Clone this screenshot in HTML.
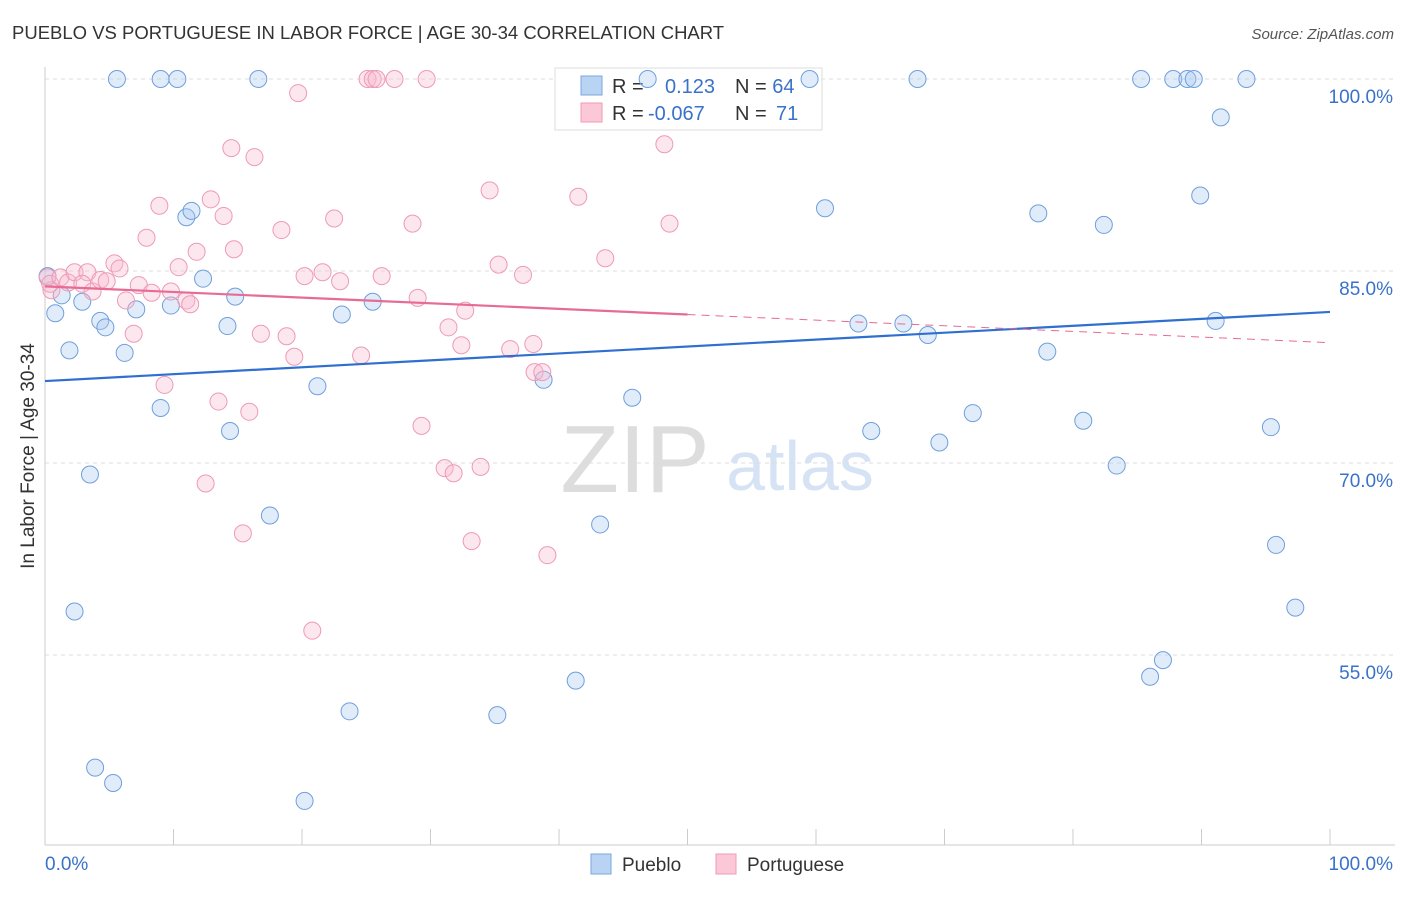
<!DOCTYPE html>
<html><head><meta charset="utf-8"><style>
body{margin:0;background:#fff;font-family:"Liberation Sans",sans-serif}
svg text{font-family:"Liberation Sans",sans-serif}
</style></head><body>
<svg id="c" width="1406" height="892">
<text x="12" y="39" font-size="18.5" fill="#333">PUEBLO VS PORTUGUESE IN LABOR FORCE | AGE 30-34 CORRELATION CHART</text>
<text x="1394" y="39" font-size="15" fill="#555" font-style="italic" text-anchor="end">Source: ZipAtlas.com</text>
<text x="34" y="456" font-size="19" fill="#333" transform="rotate(-90 34 456)" text-anchor="middle">In Labor Force | Age 30-34</text>
<text x="635" y="492" font-size="96" fill="#ddd" font-family="Liberation Serif" text-anchor="middle">ZIP</text>
<text x="800" y="490" font-size="70" fill="#d5e3f5" text-anchor="middle">atlas</text>
<g id="grid"></g>
<g>
<rect x="555" y="68" width="267" height="62" fill="#fff" stroke="#ddd"/>
<rect x="581" y="76" width="21" height="19" fill="#b9d3f3" stroke="#7aa7e0"/>
<rect x="581" y="103" width="21" height="19" fill="#fbc8d8" stroke="#f09ab5"/>
<text x="612" y="93" font-size="20" fill="#333">R = <tspan fill="#3a72c9" x="665">0.123</tspan><tspan fill="#333" x="735">N = </tspan><tspan fill="#3a72c9">64</tspan></text>
<text x="612" y="120" font-size="20" fill="#333">R = <tspan fill="#3a72c9" x="648">-0.067</tspan><tspan fill="#333" x="735">N = </tspan><tspan fill="#3a72c9" x="776">71</tspan></text>
</g>
<g id="pts"></g><g id="lines"></g>
<g>
<rect x="591" y="854" width="20" height="20" fill="#b9d3f3" stroke="#7aa7e0"/>
<text x="622" y="871" font-size="19" fill="#333">Pueblo</text>
<rect x="716" y="854" width="20" height="20" fill="#fbc8d8" stroke="#f09ab5"/>
<text x="747" y="871" font-size="19" fill="#333">Portuguese</text>
</g>
<text x="45" y="870" font-size="19" fill="#3a72c9">0.0%</text>
<text x="1393" y="870" font-size="19" fill="#3a72c9" text-anchor="end">100.0%</text>
</svg>
<script>
const yTicks=[100,85,70,55];
const yTickLabels=["100.0%","85.0%","70.0%","55.0%"];
const xTicks=[0,10,20,30,40,50,60,70,80,90,100];
const puebloX=[5.6,9,10.3,16.6,46.9,59.5,67.9,85.3,87.8,88.9,89.4,93.5,91.5,89.9,60.7,77.3,82.4,11,11.4,12.3,0.2,1.3,0.8,2.9,4.3,4.7,7.1,9.8,14.8,14.2,25.5,23.1,1.9,6.2,63.3,66.8,68.7,91.1,78,38.8,21.2,9,45.7,14.4,64.3,69.6,72.2,80.8,95.4,83.4,3.5,17.5,43.2,95.8,2.3,97.3,87,86,41.3,23.7,35.2,3.9,5.3,20.2];
const puebloY=[100,100,100,100,100,100,100,100,100,100,100,100,97,90.9,89.9,89.5,88.6,89.2,89.7,84.4,84.6,83.1,81.7,82.6,81.1,80.6,82,82.3,83,80.7,82.6,81.6,78.8,78.6,80.9,80.9,80,81.1,78.7,76.5,76,74.3,75.1,72.5,72.5,71.6,73.9,73.3,72.8,69.8,69.1,65.9,65.2,63.6,58.4,58.7,54.6,53.3,53,50.6,50.3,46.2,45,43.6];
const portX=[0.2,0.5,0.4,1.2,1.8,2.3,3.3,2.9,3.7,4.3,4.8,5.4,5.8,6.3,6.9,7.3,7.9,8.3,8.9,9.3,9.8,10.4,11,11.3,11.8,12.5,12.9,13.5,13.9,14.5,14.7,15.4,15.9,16.3,16.8,18.4,18.8,19.4,19.7,20.2,20.8,21.6,22.5,22.96,24.6,25.1,25.5,25.8,27.2,29.7,26.2,28.6,29,29.3,31.1,31.4,31.8,32.4,32.7,33.2,33.9,34.6,35.3,36.2,37.2,38,38.1,38.7,39.1,41.5,43.6,48.2,48.6];
const portY=[84.5,83.5,84,84.5,84.1,84.9,84.9,84,83.4,84.3,84.2,85.6,85.2,82.7,80.1,83.9,87.6,83.3,90.1,76.1,83.4,85.3,82.7,82.4,86.5,68.4,90.6,74.8,89.3,94.6,86.7,64.5,74,93.9,80.1,88.2,79.9,78.3,98.9,84.6,56.9,84.9,89.1,84.2,78.4,100,100,100,100,100,84.6,88.7,82.9,72.9,69.6,80.6,69.2,79.2,81.9,63.9,69.7,91.3,85.5,78.9,84.7,79.3,77.1,77.1,62.8,90.8,86,94.9,88.7];
const NS="http://www.w3.org/2000/svg";
const X=v=>45+v*12.85, Y=v=>79+(100-v)*12.8;
function mk(p,t,a){const e=document.createElementNS(NS,t);for(const k in a)e.setAttribute(k,a[k]);document.getElementById(p).appendChild(e);return e;}
yTicks.forEach((t,i)=>{
 const l=mk('grid','line',{x1:45,x2:1395,y1:Y(t),y2:Y(t),stroke:'#ddd','stroke-dasharray':'4,4'});
 
 
 const tx=mk('grid','text',{x:1393,y:Y(t)+24,'font-size':19,fill:'#3a72c9','text-anchor':'end'});tx.textContent=yTickLabels[i];
 
 
});
const ax=mk('grid','line',{x1:45,x2:45,y1:67,y2:845,stroke:'#ccc'});


const bx=mk('grid','line',{x1:45,x2:1395,y1:845,y2:845,stroke:'#ccc'});


xTicks.forEach(t=>{const l=mk('grid','line',{x1:X(t),x2:X(t),y1:829,y2:845,stroke:'#ccc'});
 
 });
puebloX.forEach((x,i)=>{const c=mk('pts','circle',{cx:X(x),cy:Y(puebloY[i]),r:8.5,fill:'rgba(170,200,240,0.35)',stroke:'#6f9fdc','stroke-width':1});
 
 });
portX.forEach((x,i)=>{const c=mk('pts','circle',{cx:X(x),cy:Y(portY[i]),r:8.5,fill:'rgba(248,185,205,0.35)',stroke:'#ee9ab5','stroke-width':1});
 
 });
const bl=mk('lines','line',{x1:X(0),y1:Y(76.4),x2:X(100),y2:Y(81.8),stroke:'#2f6fd0','stroke-width':2.2});


const pl=mk('lines','line',{x1:X(0),y1:Y(83.8),x2:X(50),y2:Y(81.6),stroke:'#e86b93','stroke-width':2.2});


const pd=mk('lines','line',{x1:X(50),y1:Y(81.6),x2:X(100),y2:Y(79.4),stroke:'#e86b93','stroke-width':1,'stroke-dasharray':'8,6'});


</script>
</body></html>
